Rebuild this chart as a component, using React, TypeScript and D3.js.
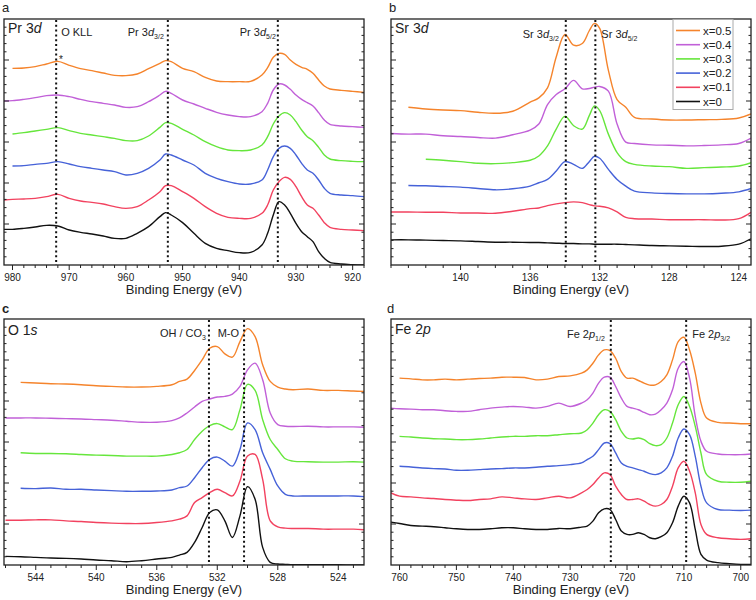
import React from 'react';
import * as d3 from 'd3';

const FONT = '"Liberation Sans", Arial, Helvetica, sans-serif';

const seriesLabels = ['x=0.5', 'x=0.4', 'x=0.3', 'x=0.2', 'x=0.1', 'x=0'];
const seriesColors = ['#f5842c', '#c160d8', '#66e63c', '#4662d8', '#f2425f', '#111111'];

// ---- Panel a: Pr 3d ----
const prEnergy = [981.5, 980, 978, 976, 974, 972, 970, 968, 966, 964, 962, 960, 958, 956, 954, 953, 952, 950, 948, 946, 944, 942, 940, 938, 936, 935, 934, 933, 932, 931, 930, 929, 928, 927, 926, 925, 924, 922, 920, 918];
const prX05 = [null, 590, 591, 595, 603, 611, 599, 589, 583, 576, 569, 568, 573, 589, 605, 613, 610, 590, 580, 563, 552, 550, 550, 551, 570, 592, 623, 635, 632, 615, 602, 593, 587, 575, 555, 537, 528, 524, 521, 518];
const prX04 = [492, 493, 497, 502, 508, 510, 505, 497, 490, 485, 480, 473, 475, 490, 510, 521, 515, 495, 483, 470, 458, 450, 445, 445, 460, 485, 525, 543, 540, 527, 510, 497, 487, 477, 457, 435, 422, 417, 415, 413];
const prX03 = [null, 393, 397, 402, 407, 412, 403, 395, 390, 385, 380, 373, 373, 387, 413, 427, 425, 407, 390, 370, 355, 345, 343, 345, 360, 385, 423, 447, 457, 450, 430, 405, 385, 373, 353, 330, 318, 313, 311, 310];
const prX02 = [null, 297, 298, 302, 305, 310, 303, 295, 290, 285, 280, 270, 275, 290, 315, 333, 330, 315, 300, 275, 260, 250, 243, 243, 255, 285, 325, 350, 357, 350, 330, 305, 285, 275, 255, 230, 215, 210, 208, 205];
const prX01 = [195, 197, 198, 200, 205, 212, 200, 192, 188, 183, 175, 170, 175, 195, 220, 238, 238, 220, 200, 175, 155, 143, 140, 140, 155, 180, 225, 250, 263, 257, 235, 205, 180, 170, 150, 127, 113, 107, 105, 103];
const prX00 = [107, 107, 110, 114, 119, 117, 105, 98, 93, 87, 80, 80, 95, 115, 145, 157, 150, 127, 95, 65, 50, 43, 37, 38, 60, 95, 150, 190, 180, 155, 125, 100, 85, 70, 40, 20, 8, 3, 1, 0];
const prTicks = [980, 970, 960, 950, 940, 930, 920];
const prLines = [972.3, 952.6, 933.2];

// ---- Panel b: Sr 3d ----
const srEnergy = [144, 143, 142, 141, 140, 139, 138, 137, 136, 135.5, 135, 134.5, 134, 133.5, 133, 132.6, 132.3, 132, 131.5, 131, 130.5, 130, 129, 128, 127, 126, 125, 124, 123.3];
const srX05 = [null, 470, 465, 462, 460, 455, 452, 458, 485, 498, 528, 620, 687, 655, 660, 698, 720, 705, 580, 493, 470, 440, 435, 432, 432, 433, 434, 438, 450];
const srX04 = [392, 390, 390, 385, 383, 380, 378, 388, 402, 420, 478, 508, 525, 550, 525, 526, 530, 532, 518, 420, 366, 362, 358, 357, 355, 356, 358, 362, 378];
const srX03 = [null, null, 315, 312, 308, 303, 302, 305, 312, 325, 355, 405, 443, 415, 405, 445, 474, 460, 390, 335, 308, 300, 295, 293, 288, 290, 292, 295, 305];
const srX02 = [null, 237, 236, 234, 232, 228, 224, 227, 235, 245, 255, 280, 308, 300, 288, 308, 324, 318, 285, 255, 235, 220, 215, 213, 212, 212, 214, 218, 228];
const srX01 = [158, 158, 157, 157, 155, 155, 154, 160, 168, 170, 177, 182, 186, 188, 186, 180, 176, 175, 170, 158, 142, 138, 137, 135, 135, 135, 134, 138, 157];
const srX00 = [75, 75, 74, 73, 72, 70, 68, 68, 67, 67, 66, 65, 64, 64, 63, 63, 62, 62, 62, 62, 61, 60, 58, 57, 56, 55, 56, 62, 78];
const srTicks = [140, 136, 132, 128, 124];
const srLines = [133.95, 132.25];

// ---- Panel c: O 1s ----
const oEnergy = [546, 545, 544, 543, 542, 541, 540, 539, 538, 537, 536, 535, 534.5, 534, 533.5, 533, 532.5, 532, 531.5, 531, 530.5, 530, 529.5, 529, 528.5, 528, 527.5, 527, 526, 525, 524, 523, 522.3];
const oX05 = [null, 550, 548, 546, 545, 543, 540, 538, 536, 536, 538, 543, 553, 560, 586, 618, 653, 658, 636, 626, 673, 712, 688, 603, 553, 536, 530, 528, 530, 526, 526, 524, 523];
const oX04 = [443, 443, 443, 442, 441, 440, 438, 436, 433, 430, 430, 435, 443, 458, 476, 493, 500, 506, 508, 515, 538, 588, 608, 558, 458, 423, 418, 417, 418, 416, 416, 416, 415];
const oX03 = [null, 338, 336, 336, 335, 333, 331, 330, 328, 328, 328, 333, 338, 348, 378, 403, 420, 426, 416, 408, 468, 544, 526, 438, 378, 348, 320, 313, 311, 310, 310, 311, 310];
const oX02 = [null, 231, 230, 232, 228, 228, 226, 224, 222, 222, 223, 226, 233, 238, 263, 293, 318, 325, 313, 298, 348, 428, 408, 338, 288, 238, 213, 208, 208, 208, 208, 208, 206];
const oX01 = [135, 135, 136, 136, 133, 131, 128, 126, 125, 125, 128, 133, 138, 148, 188, 203, 218, 228, 218, 208, 253, 328, 333, 258, 133, 115, 111, 110, 110, 108, 108, 108, 106];
const oX00 = [26, 25, 23, 21, 20, 18, 15, 13, 10, 13, 18, 23, 30, 38, 68, 113, 158, 166, 133, 83, 148, 236, 198, 53, 8, 3, 2, 1, 1, 1, 1, 0, 0];
const oTicks = [544, 540, 536, 532, 528, 524];
const oLines = [532.55, 530.23];

// ---- Panel d: Fe 2p ----
const feEnergy = [761.5, 760, 758, 756, 754, 752, 750, 748, 746, 744, 742, 740, 738, 736, 734, 732, 730, 728, 727, 726, 725, 724, 723, 722, 721, 720, 719, 718, 717, 716, 715, 714, 713, 712, 711, 710, 709, 708, 707, 706, 704, 702, 700, 698.2];
const feX05 = [null, 562, 560, 557, 557, 559, 557, 559, 561, 562, 565, 565, 564, 557, 559, 567, 569, 577, 587, 607, 632, 647, 645, 622, 582, 562, 562, 555, 547, 541, 542, 552, 572, 617, 672, 685, 647, 577, 487, 442, 429, 427, 425, 425];
const feX04 = [472, 470, 469, 467, 467, 464, 462, 462, 467, 472, 475, 477, 475, 472, 477, 487, 477, 487, 497, 517, 547, 565, 565, 537, 502, 477, 472, 467, 459, 452, 454, 467, 487, 527, 592, 612, 562, 447, 372, 342, 334, 332, 332, 334];
const feX03 = [null, 387, 385, 382, 380, 379, 377, 377, 379, 382, 385, 387, 387, 389, 389, 392, 395, 397, 407, 427, 452, 467, 462, 437, 402, 382, 379, 382, 377, 365, 359, 362, 382, 427, 482, 507, 477, 417, 337, 272, 252, 249, 249, 252];
const feX02 = [null, 297, 295, 292, 290, 289, 285, 285, 287, 289, 290, 292, 292, 294, 297, 299, 302, 307, 317, 327, 347, 367, 365, 337, 307, 297, 292, 287, 282, 275, 272, 277, 292, 327, 382, 409, 392, 327, 237, 187, 167, 165, 164, 165];
const feX01 = [217, 207, 205, 202, 200, 197, 195, 194, 197, 199, 205, 202, 199, 197, 202, 207, 202, 217, 227, 242, 262, 277, 272, 237, 212, 197, 197, 199, 192, 182, 177, 182, 197, 237, 292, 312, 282, 217, 122, 92, 82, 79, 77, 79];
const feX00 = [129, 125, 119, 117, 115, 112, 109, 107, 107, 109, 112, 112, 109, 107, 107, 110, 109, 114, 117, 132, 157, 169, 167, 137, 102, 92, 92, 97, 92, 82, 79, 85, 97, 127, 177, 207, 187, 107, 32, 15, 7, 4, 2, 2];
const feTicks = [760, 750, 740, 730, 720, 710, 700];
const feLines = [722.85, 709.6];

type Seg = { t: string; it?: boolean; sub?: boolean };
type Note = { line: number; side: 'l' | 'r'; gap: number; segs: Seg[] };

function Txt({ segs, size, subSize }: { segs: Seg[]; size: number; subSize: number }) {
  return (
    <>
      {segs.map((s, i) => (
        <tspan key={i} fontStyle={s.it ? 'italic' : 'normal'} fontSize={s.sub ? subSize : size} dy={s.sub ? 3 : 0}>
          {s.t}
        </tspan>
      ))}
    </>
  );
}

function Panel(props: any) {
  const {
    id, left, top, width, height, xDomain, yMax, energies, values, majors, minorStep,
    lines, letter, letterPos, letterBold, title, titleY, notes, noteY, legend, extra,
  } = props;
  const x = d3.scaleLinear().domain(xDomain).range([0, width]);
  const y = d3.scaleLinear().domain([0, yMax]).range([height, 0]);
  const gen = d3
    .line<[number, number | null]>()
    .defined((d) => d[1] !== null)
    .x((d) => x(d[0]))
    .y((d) => y(d[1] as number))
    .curve(d3.curveCatmullRom.alpha(0.5));
  const lo = Math.ceil(Math.min(xDomain[0], xDomain[1]) / minorStep) * minorStep;
  const hi = Math.max(xDomain[0], xDomain[1]);
  const minors = d3.range(lo, hi + 1e-6, minorStep).filter((v) => !majors.some((m: number) => Math.abs(m - v) < 1e-6));
  const yTicks = d3.range(1, 30).map((i) => ({ v: (i * yMax) / 30, major: i % 5 === 0 }));
  const ink = '#222';
  return (
    <g>
      <text x={letterPos[0]} y={letterPos[1]} fontFamily={FONT} fontSize={13} fontWeight={letterBold ? 'bold' : 'normal'} fill={ink}>
        {letter}
      </text>
      <g transform={`translate(${left},${top})`}>
        <defs>
          <clipPath id={`clip-${id}`}>
            <rect x={0} y={0} width={width} height={height} />
          </clipPath>
        </defs>
        <g clipPath={`url(#clip-${id})`}>
          {values.map((vals: (number | null)[], si: number) => (
            <path
              key={si}
              d={gen(energies.map((e: number, i: number) => [e, vals[i]] as [number, number | null])) || ''}
              fill="none"
              stroke={seriesColors[si]}
              strokeWidth={1.4}
              strokeLinejoin="round"
            />
          ))}
        </g>
        {lines.map((e: number, i: number) => (
          <line key={i} x1={x(e)} x2={x(e)} y1={1} y2={height} stroke="#111" strokeWidth={2} strokeDasharray="2,2.8" />
        ))}
        <rect x={0} y={0} width={width} height={height} fill="none" stroke={ink} strokeWidth={1.3} />
        {yTicks.map((t, i) => (
          <g key={i}>
            <line x1={0} x2={t.major ? 5 : 2.5} y1={y(t.v)} y2={y(t.v)} stroke={ink} strokeWidth={1} />
            <line x1={width} x2={width - (t.major ? 5 : 2.5)} y1={y(t.v)} y2={y(t.v)} stroke={ink} strokeWidth={1} />
          </g>
        ))}
        {majors.map((m: number) => (
          <g key={m}>
            <line x1={x(m)} x2={x(m)} y1={height} y2={height + 5} stroke={ink} strokeWidth={1} />
            <text x={x(m)} y={height + 16} textAnchor="middle" fontFamily={FONT} fontSize={10} fill={ink}>
              {m}
            </text>
          </g>
        ))}
        {minors.map((m: number, i: number) => (
          <line key={i} x1={x(m)} x2={x(m)} y1={height} y2={height + 3} stroke={ink} strokeWidth={1} />
        ))}
        <text x={width / 2} y={height + 29} textAnchor="middle" fontFamily={FONT} fontSize={13} fill={ink}>
          Binding Energy (eV)
        </text>
        <text x={4} y={titleY} fontFamily={FONT} fontSize={14} fill={ink}>
          <Txt segs={title} size={14} subSize={9} />
        </text>
        {notes.map((n: Note, i: number) => (
          <text
            key={i}
            x={x(lines[n.line]) + (n.side === 'l' ? -n.gap : n.gap)}
            y={noteY}
            textAnchor={n.side === 'l' ? 'end' : 'start'}
            fontFamily={FONT}
            fontSize={11}
            fill={ink}
          >
            <Txt segs={n.segs} size={11} subSize={7} />
          </text>
        ))}
        {extra}
        {legend && (
          <g transform={`translate(${width - 78},0.5)`}>
            <rect x={0} y={0} width={60} height={90} fill="#fff" stroke="#aaa" strokeWidth={1} />
            {seriesLabels.map((lab, i) => (
              <g key={lab} transform={`translate(0,${11 + i * 14.2})`}>
                <line x1={3} x2={27} y1={0} y2={0} stroke={seriesColors[i]} strokeWidth={1.6} />
                <text x={30} y={4} fontFamily={FONT} fontSize={11.5} fill={ink}>
                  {lab}
                </text>
              </g>
            ))}
          </g>
        )}
      </g>
    </g>
  );
}

export default function App() {
  const W = 360;
  const H = 246;
  return (
    <svg width={756} height={600} style={{ position: 'absolute', left: 0, top: 0, background: '#fff' }}>
      <rect width={756} height={600} fill="#fff" />
      <Panel
        id="a" left={4} top={19} width={W} height={H}
        xDomain={[981.5, 918]} yMax={738}
        energies={prEnergy} values={[prX05, prX04, prX03, prX02, prX01, prX00]}
        majors={prTicks} minorStep={2} lines={prLines}
        letter="a" letterPos={[2, 12]}
        title={[{ t: 'Pr 3' }, { t: 'd', it: true }]} titleY={14}
        noteY={17}
        notes={[
          { line: 0, side: 'r', gap: 5, segs: [{ t: 'O KLL' }] },
          { line: 1, side: 'l', gap: 4, segs: [{ t: 'Pr 3' }, { t: 'd', it: true }, { t: '3/2', sub: true }] },
          { line: 2, side: 'l', gap: 2, segs: [{ t: 'Pr 3' }, { t: 'd', it: true }, { t: '5/2', sub: true }] },
        ]}
        extra={<text x={55} y={44} fontFamily={FONT} fontSize={10} fill="#222">*</text>}
      />
      <Panel
        id="b" left={391} top={19} width={W} height={H}
        xDomain={[144, 123.3]} yMax={733}
        energies={srEnergy} values={[srX05, srX04, srX03, srX02, srX01, srX00]}
        majors={srTicks} minorStep={1} lines={srLines}
        letter="b" letterPos={[389, 12]}
        title={[{ t: 'Sr 3' }, { t: 'd', it: true }]} titleY={14}
        noteY={19}
        notes={[
          { line: 0, side: 'l', gap: 7, segs: [{ t: 'Sr 3' }, { t: 'd', it: true }, { t: '3/2', sub: true }] },
          { line: 1, side: 'r', gap: 6, segs: [{ t: 'Sr 3' }, { t: 'd', it: true }, { t: '5/2', sub: true }] },
        ]}
        legend
      />
      <Panel
        id="c" left={4} top={319} width={W} height={H}
        xDomain={[546.1, 522.3]} yMax={741}
        energies={oEnergy} values={[oX05, oX04, oX03, oX02, oX01, oX00]}
        majors={oTicks} minorStep={1} lines={oLines}
        letter="c" letterPos={[2, 313]} letterBold
        title={[{ t: 'O 1' }, { t: 's', it: true }]} titleY={16}
        noteY={18}
        notes={[
          { line: 0, side: 'l', gap: 3, segs: [{ t: 'OH / CO' }, { t: '3', sub: true }] },
          { line: 1, side: 'l', gap: 5, segs: [{ t: 'M-O' }] },
        ]}
      />
      <Panel
        id="d" left={391} top={319} width={W} height={H}
        xDomain={[761.5, 698.2]} yMax={740}
        energies={feEnergy} values={[feX05, feX04, feX03, feX02, feX01, feX00]}
        majors={feTicks} minorStep={2} lines={feLines}
        letter="d" letterPos={[387, 313]}
        title={[{ t: 'Fe 2' }, { t: 'p', it: true }]} titleY={15}
        noteY={19}
        notes={[
          { line: 0, side: 'l', gap: 6, segs: [{ t: 'Fe 2' }, { t: 'p', it: true }, { t: '1/2', sub: true }] },
          { line: 1, side: 'r', gap: 6, segs: [{ t: 'Fe 2' }, { t: 'p', it: true }, { t: '3/2', sub: true }] },
        ]}
      />
    </svg>
  );
}
